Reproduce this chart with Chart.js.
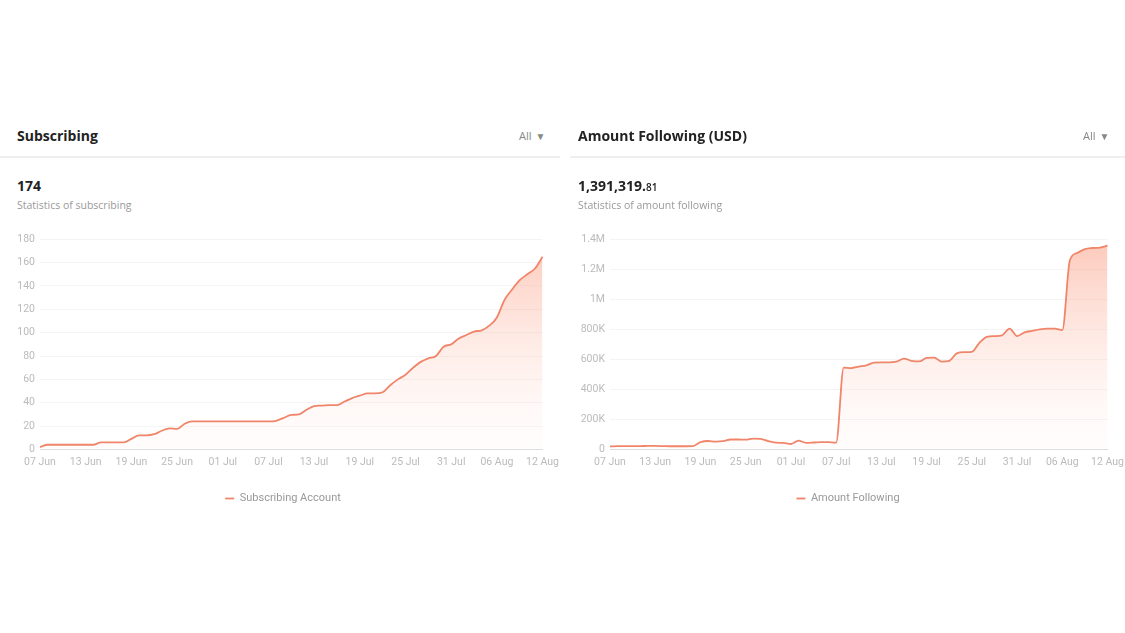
<!DOCTYPE html>
<html>
<head>
<meta charset="utf-8">
<script src="https://cdn.jsdelivr.net/npm/chart.js@4"></script>
<style>
  body { margin: 0; background: #fff; font-family: "Open Sans", "Noto Sans", sans-serif; overflow: hidden; }
  .panel { position: absolute; top: 0; width: 560px; height: 633px; }
  .title { position: absolute; top: 126px; font-size: 14px; font-weight: 700; color: #222; }
  .all { position: absolute; top: 128px; font-size: 11px; color: #888; }
  .all span { margin-left: 4px; font-size: 10px; }
  .divider { position: absolute; top: 156px; height: 2px; background: #efefef; }
  .total { position: absolute; top: 176px; font-size: 14px; font-weight: 700; color: #222; }
  .total small { font-size: 10px; font-weight: 600; }
  .sub { position: absolute; top: 198px; font-size: 10.5px; color: #9a9a9a; }
  .box { position: absolute; top: 228px; height: 286px; width: 566px; left: 0; }
</style>
</head>
<body>
<div class="panel" style="left:0">
  <div class="title" style="left:17px">Subscribing</div>
  <div class="all" style="left:519px">All<span>&#9660;</span></div>
  <div class="divider" style="left:0;width:560px"></div>
  <div class="total" style="left:17px">174</div>
  <div class="sub" style="left:17px">Statistics of subscribing</div>
  <div class="box"><canvas id="subChart"></canvas></div>
</div>
<div class="panel" style="left:565px">
  <div class="title" style="left:13px">Amount Following (USD)</div>
  <div class="all" style="left:518px">All<span>&#9660;</span></div>
  <div class="divider" style="left:5px;width:555px"></div>
  <div class="total" style="left:13px">1,391,319.<small>81</small></div>
  <div class="sub" style="left:13px">Statistics of amount following</div>
  <div class="box"><canvas id="amtChart"></canvas></div>
</div>
<script>
// daily categories, 07 Jun .. 12 Aug
const dates = [
  '07 Jun','08 Jun','09 Jun','10 Jun','11 Jun','12 Jun','13 Jun','14 Jun','15 Jun','16 Jun','17 Jun','18 Jun',
  '19 Jun','20 Jun','21 Jun','22 Jun','23 Jun','24 Jun','25 Jun','26 Jun','27 Jun','28 Jun','29 Jun','30 Jun',
  '01 Jul','02 Jul','03 Jul','04 Jul','05 Jul','06 Jul','07 Jul','08 Jul','09 Jul','10 Jul','11 Jul','12 Jul',
  '13 Jul','14 Jul','15 Jul','16 Jul','17 Jul','18 Jul','19 Jul','20 Jul','21 Jul','22 Jul','23 Jul','24 Jul',
  '25 Jul','26 Jul','27 Jul','28 Jul','29 Jul','30 Jul','31 Jul','01 Aug','02 Aug','03 Aug','04 Aug','05 Aug',
  '06 Aug','07 Aug','08 Aug','09 Aug','10 Aug','11 Aug','12 Aug'
];

const subscribing = [
  2, 4, 4, 4, 4, 4, 4, 4, 6, 6, 6, 6,
  9, 12, 12, 13, 16, 18, 17.5, 22, 24, 24, 24, 24,
  24, 24, 24, 24, 24, 24, 24, 24.5, 27, 29.5, 30, 34,
  37, 37.5, 38, 38, 41, 44, 46, 48, 48, 49, 55, 60,
  64, 70, 75, 78, 80, 88, 90, 95, 98, 101, 102, 106,
  113, 128, 137, 145, 150, 155, 165
];

const amountFollowing = [
  20000, 22000, 22000, 22000, 22000, 23000, 23000, 22000, 21000, 21000, 21000, 22000,
  48000, 56000, 52000, 55000, 66000, 66000, 65000, 72000, 70000, 55000, 45000, 43000,
  36000, 58000, 44000, 46000, 49000, 48000, 45000, 545000, 542000, 552000, 560000, 578000,
  580000, 580000, 585000, 605000, 590000, 586000, 610000, 612000, 585000, 590000, 640000, 648000,
  650000, 710000, 750000, 755000, 760000, 805000, 755000, 780000, 790000, 800000, 805000, 805000,
  795000, 1260000, 1310000, 1335000, 1342000, 1345000, 1358000
];

const subTicks = { max: 180, step: 20 };
const amtTicks = { max: 1400000, step: 200000 };

const lineColor = '#f0856a';

function fillGradient(context) {
  const { ctx, chartArea } = context.chart;
  if (!chartArea) return 'rgba(247,140,110,0.3)';
  const g = ctx.createLinearGradient(0, chartArea.top, 0, chartArea.bottom);
  g.addColorStop(0, 'rgba(250,145,115,0.5)');
  g.addColorStop(1, 'rgba(255,240,235,0.12)');
  return g;
}

function makeChart(id, label, values, ticks, fmt, axisWidth) {
  return new Chart(document.getElementById(id), {
    type: 'line',
    data: {
      labels: dates,
      datasets: [{
        label: label,
        data: values,
        borderColor: lineColor,
        backgroundColor: fillGradient,
        borderWidth: 1.8,
        fill: 'origin',
        pointRadius: 0,
        cubicInterpolationMode: 'monotone'
      }]
    },
    options: {
      responsive: true,
      maintainAspectRatio: false,
      animation: false,
      layout: { padding: { left: 0, right: 0, top: 4 } },
      plugins: {
        tooltip: { enabled: false },
        legend: {
          position: 'bottom',
          labels: {
            usePointStyle: true,
            pointStyle: 'line',
            pointStyleWidth: 9,
            boxWidth: 9,
            boxHeight: 9,
            color: '#999',
            font: { family: 'Roboto', size: 11 },
            padding: 17
          }
        }
      },
      scales: {
        x: {
          grid: { display: false, drawTicks: false },
          border: { color: '#ddd' },
          ticks: {
            autoSkip: false,
            maxRotation: 0,
            color: '#bbb',
            font: { family: 'Roboto', size: 10.5 },
            padding: 7,
            callback: (v, i) => (i % 6 === 0 ? dates[i] : null)
          }
        },
        y: {
          min: 0,
          max: ticks.max,
          afterFit: scale => { scale.width = axisWidth; },
          grid: { color: '#f4f4f4', drawTicks: false },
          border: { display: false },
          ticks: {
            stepSize: ticks.step,
            color: '#bbb',
            font: { family: 'Roboto', size: 10.5 },
            padding: 5,
            callback: fmt
          }
        }
      }
    }
  });
}

makeChart('subChart', 'Subscribing Account', subscribing, subTicks, v => v, 40);
makeChart('amtChart', 'Amount Following', amountFollowing, amtTicks,
  v => (v === 0 ? '0' : v >= 1000000 ? (v / 1000000) + 'M' : (v / 1000) + 'K'), 45);
</script>
</body>
</html>
